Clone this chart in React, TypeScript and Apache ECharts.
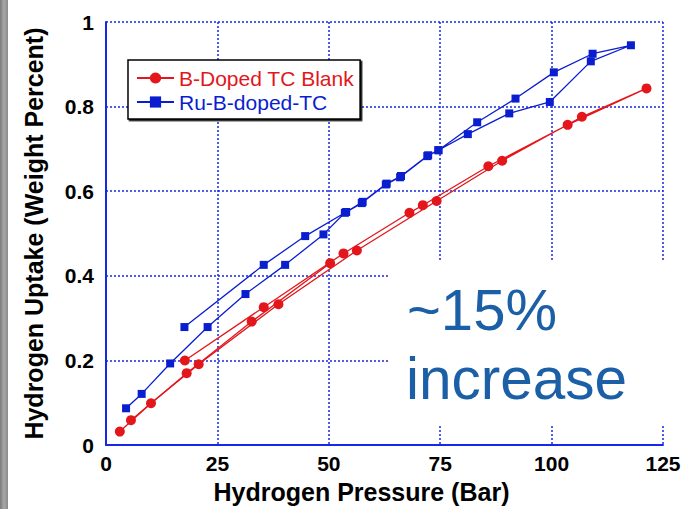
import React, { useEffect, useRef } from 'react';
import * as echarts from 'echarts';

const seriesNames = ['B-Doped TC Blank', 'Ru-B-doped-TC'];
const xTicks = [0, 25, 50, 75, 100, 125];
const yTicks = [0, 0.2, 0.4, 0.6, 0.8, 1];

// Blank: adsorption + desorption run
const blankRun1Pressure = [3.1, 10.1, 20.8, 38.7, 56.3, 74.2, 88.9, 106.8, 121.3, 103.6, 85.8, 71.1, 68.1, 53.3, 35.4, 17.7];
const blankRun1Uptake = [0.032, 0.099, 0.191, 0.333, 0.46, 0.577, 0.672, 0.776, 0.843, 0.757, 0.659, 0.567, 0.549, 0.453, 0.326, 0.2];
// Blank: second run
const blankRun2Pressure = [5.6, 18.1, 32.7, 50.3];
const blankRun2Uptake = [0.059, 0.17, 0.292, 0.43];

// Ru-doped: adsorption then desorption
const ruPressure = [4.5, 8.0, 14.4, 22.8, 31.3, 40.2, 48.8, 53.6, 57.4, 62.8, 66.0, 72.1, 74.6, 81.2, 90.5, 99.6, 108.8, 117.8,
  109.2, 100.5, 91.9, 83.3, 74.6, 72.3, 66.2, 63.0, 57.6, 53.9, 44.7, 35.4, 17.6];
const ruUptake = [0.087, 0.121, 0.193, 0.279, 0.357, 0.426, 0.498, 0.549, 0.572, 0.616, 0.633, 0.683, 0.697, 0.735, 0.784, 0.811, 0.907, 0.945,
  0.925, 0.881, 0.819, 0.763, 0.697, 0.685, 0.636, 0.618, 0.575, 0.551, 0.494, 0.426, 0.279];

const annotationLines = ['~15%', 'increase'];

const RED = '#e3161b';
const BLUE = '#0a1ed0';
const GRID = '#1428e6';
const NOTE = '#1b5fa6';
const FONT = '"Liberation Sans", Arial, sans-serif';

const zip = (xs: number[], ys: number[]) => xs.map((x, i) => [x, ys[i]]);

export default function App() {
  const ref = useRef<HTMLDivElement>(null);
  useEffect(() => {
    if (!ref.current) return;
    const chart = echarts.init(ref.current, undefined, { renderer: 'svg' });
    const axisCommon = {
      type: 'value' as const,
      axisLine: { show: true, onZero: false, lineStyle: { color: GRID, width: 2 } },
      axisTick: { show: false },
      splitLine: { show: true, lineStyle: { color: GRID, width: 1.5, type: [2, 2] } },
      nameLocation: 'middle' as const,
    };
    chart.setOption({
      animation: false,
      backgroundColor: '#ffffff',
      grid: { left: 106, right: 22, top: 22, bottom: 57, containLabel: false },
      legend: {
        orient: 'vertical',
        left: 128,
        top: 60,
        padding: [7, 6, 6, 8],
        itemGap: 2,
        itemWidth: 37,
        itemHeight: 14,
        itemTextGap: 4,
        backgroundColor: '#ffffff',
        borderColor: '#000000',
        borderWidth: 1.5,
        shadowColor: 'rgba(0,0,0,0.9)',
        shadowOffsetX: 1.5,
        shadowOffsetY: 1.5,
        shadowBlur: 0,
        selectedMode: false,
        textStyle: { fontSize: 21, fontFamily: FONT, lineHeight: 22 },
        data: [
          { name: seriesNames[0], textStyle: { color: RED } },
          { name: seriesNames[1], textStyle: { color: BLUE } },
        ],
        z: 5,
      },
      xAxis: {
        ...axisCommon,
        min: xTicks[0],
        max: xTicks[xTicks.length - 1],
        interval: xTicks[1] - xTicks[0],
        axisLabel: { fontSize: 21, fontWeight: 'bold', color: '#000', fontFamily: FONT, margin: 8 },
        name: 'Hydrogen Pressure (Bar)',
        nameGap: 32,
        nameTextStyle: { fontSize: 25, fontWeight: 'bold', color: '#000', fontFamily: FONT, padding: [0, 46, 0, 0] },
      },
      yAxis: {
        ...axisCommon,
        min: yTicks[0],
        max: yTicks[yTicks.length - 1],
        interval: yTicks[1] - yTicks[0],
        axisLabel: { fontSize: 21, fontWeight: 'bold', color: '#000', fontFamily: FONT, margin: 12 },
        name: 'Hydrogen Uptake (Weight Percent)',
        nameGap: 60,
        nameTextStyle: { fontSize: 25, fontWeight: 'bold', color: '#000', fontFamily: FONT },
      },
      series: [
        {
          name: seriesNames[0],
          type: 'line',
          data: zip(blankRun1Pressure, blankRun1Uptake),
          symbol: 'circle',
          symbolSize: 10,
          itemStyle: { color: RED },
          lineStyle: { color: RED, width: 1.3 },
          z: 3,
        },
        {
          name: seriesNames[0],
          type: 'line',
          data: zip(blankRun2Pressure, blankRun2Uptake),
          symbol: 'circle',
          symbolSize: 10,
          itemStyle: { color: RED },
          lineStyle: { color: RED, width: 1.3 },
          z: 3,
        },
        {
          name: seriesNames[1],
          type: 'line',
          data: zip(ruPressure, ruUptake),
          symbol: 'rect',
          symbolSize: 8,
          itemStyle: { color: BLUE },
          lineStyle: { color: BLUE, width: 1.3 },
          z: 3,
        },
      ],
      graphic: [
        {
          type: 'rect',
          left: 0,
          top: 0,
          shape: { width: 8, height: 509 },
          style: {
            fill: new echarts.graphic.LinearGradient(0, 0, 1, 0, [
              { offset: 0, color: '#7a7a7a' },
              { offset: 0.5, color: '#a8a8a8' },
              { offset: 1, color: '#8a8a8a' },
            ]),
          },
          z: 1,
        },
        {
          type: 'rect',
          shape: { x: 390, y: 261, width: 285, height: 163 },
          style: { fill: '#ffffff' },
          z: 10,
        },
        {
          type: 'text',
          x: 407,
          y: 309,
          style: { text: annotationLines[0], fontSize: 58, fill: NOTE, fontFamily: FONT, verticalAlign: 'middle', align: 'left' },
          z: 11,
        },
        {
          type: 'text',
          x: 406,
          y: 378,
          style: { text: annotationLines[1], fontSize: 58.5, fill: NOTE, fontFamily: FONT, verticalAlign: 'middle', align: 'left' },
          z: 11,
        },
      ],
    });
    return () => chart.dispose();
  }, []);
  return <div ref={ref} style={{ position: 'fixed', left: 0, top: 0, width: 685, height: 509 }} />;
}
